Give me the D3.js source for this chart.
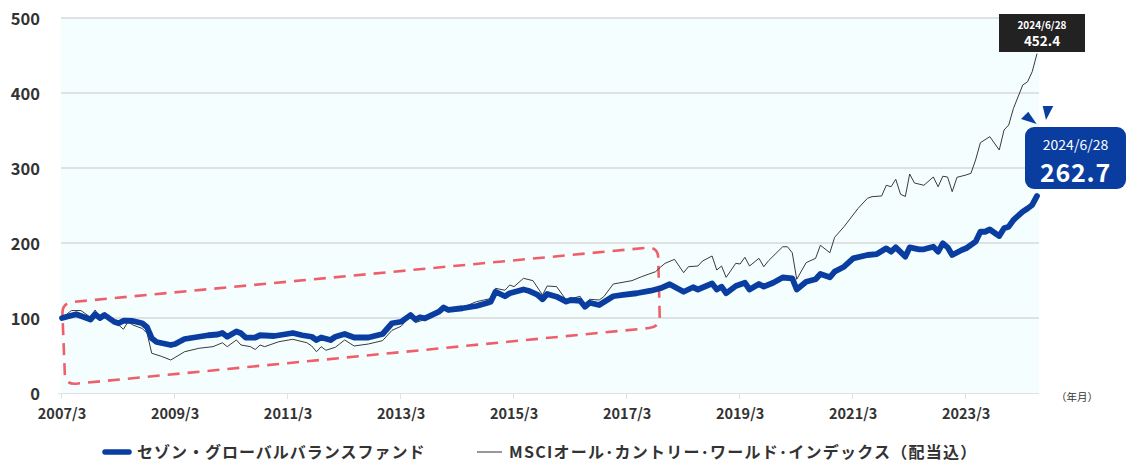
<!DOCTYPE html>
<html><head><meta charset="utf-8">
<script src="https://cdn.jsdelivr.net/npm/d3@7"></script>
<style>
body{margin:0;background:#fff;}
text{font-family:"Noto Sans CJK JP","Noto Sans",sans-serif;}
</style>
</head><body>
<svg id="chart" width="1128" height="473"></svg>
<script>
// ---- data ----
const fundDates = ["2007-03","2007-06","2007-09","2007-10","2007-11","2007-12","2008-02","2008-03","2008-04","2008-06","2008-08","2008-09","2008-10","2008-11","2009-02","2009-03","2009-05","2009-08","2009-10","2009-12","2010-01","2010-02","2010-04","2010-05","2010-06","2010-08","2010-09","2010-12","2011-02","2011-04","2011-06","2011-08","2011-09","2011-10","2011-12","2012-01","2012-03","2012-05","2012-08","2012-11","2013-01","2013-03","2013-05","2013-06","2013-07","2013-08","2013-11","2013-12","2014-01","2014-04","2014-07","2014-09","2014-10","2014-11","2015-01","2015-02","2015-05","2015-06","2015-08","2015-09","2015-10","2015-12","2016-02","2016-03","2016-05","2016-06","2016-07","2016-09","2016-12","2017-02","2017-05","2017-08","2017-10","2017-12","2018-03","2018-05","2018-06","2018-09","2018-10","2018-11","2018-12","2019-02","2019-04","2019-05","2019-07","2019-08","2019-10","2019-12","2020-02","2020-03","2020-05","2020-07","2020-08","2020-10","2020-11","2021-01","2021-03","2021-06","2021-08","2021-10","2021-11","2021-12","2022-02","2022-03","2022-05","2022-06","2022-08","2022-09","2022-10","2022-11","2022-12","2023-02","2023-03","2023-05","2023-06","2023-07","2023-08","2023-10","2023-11","2023-12","2024-01","2024-03","2024-04","2024-05","2024-06"];
const fundValues = [100,105,98,105,100,104,95,93,96.4,96,93,87.6,73,68,64,65.3,72,75,77,78,80,75,82,79.6,73.8,74,77,76,78,80,77,75,70.7,74,70.7,75,78.7,74,74,78.7,93,95,104,98,101,99.6,108.4,114,110.7,113,116,119.6,121.8,135,129,132.9,138,136.4,130.7,125,132,128.4,121.8,124,123,115,120.4,117.3,129,130.7,133,136.4,139.6,145,135,141,138,146,138,141.8,133,142.7,147,138,145.3,141.8,147,154,152.9,138,148.4,151.6,158.7,154.2,161.8,168.4,179.6,184,185.3,192.9,188.4,194.2,181.8,194.2,191.6,191.6,195,188.4,199.6,194.2,184,190.7,192.9,201.8,215,215,218,209.3,219.6,221.8,230.7,241.8,246,250.7,262.7];

const msciDates = ["2007-03","2007-05","2007-07","2007-09","2007-10","2007-11","2007-12","2008-02","2008-03","2008-04","2008-05","2008-06","2008-08","2008-09","2008-10","2008-12","2009-02","2009-05","2009-08","2009-11","2010-01","2010-02","2010-04","2010-05","2010-07","2010-08","2010-09","2010-10","2011-01","2011-04","2011-07","2011-08","2011-09","2011-10","2011-11","2012-01","2012-03","2012-05","2012-08","2012-11","2013-01","2013-03","2013-05","2013-06","2013-08","2013-12","2014-04","2014-07","2014-10","2014-11","2015-01","2015-02","2015-03","2015-05","2015-07","2015-09","2015-10","2015-12","2016-02","2016-05","2016-06","2016-07","2016-09","2016-10","2016-12","2017-04","2017-06","2017-09","2017-10","2017-11","2018-01","2018-03","2018-04","2018-06","2018-07","2018-09","2018-10","2018-11","2018-12","2019-02","2019-03","2019-04","2019-05","2019-07","2019-08","2019-09","2019-12","2020-01","2020-02","2020-03","2020-05","2020-07","2020-08","2020-10","2020-11","2021-01","2021-04","2021-06","2021-07","2021-09","2021-10","2021-11","2021-12","2022-01","2022-02","2022-03","2022-04","2022-06","2022-08","2022-09","2022-10","2022-11","2022-12","2023-01","2023-03","2023-04","2023-05","2023-06","2023-08","2023-10","2023-11","2023-12","2024-01","2024-03","2024-04","2024-05","2024-06"];
const msciValues = [100,110,110,101,110.7,101,105,93,90.7,85,95,90.7,86,79.6,53,49,44,55,59.6,61.8,67,61.8,70.7,64,61.8,58,64,61.8,68.4,71.6,67,62.7,55,61.8,57,61,70.7,62.7,65.3,69.8,83.6,89,102.7,93.8,98,113,114,121.8,126,139.6,137,144,141.8,152.9,149.8,130.7,142.7,141.8,124,129,117.3,125,124,128.4,145.3,149.8,155,161.8,167.6,172.9,178.2,160.4,168.4,169.3,176,182.7,164,169.3,154.2,172.9,172,181,169.3,179.6,168.4,176.4,195,195,187,151.6,173.8,179.6,197,187,207.6,221.8,246,259.6,261.8,262.7,277,275,285,265,262,292,280,277,288,275,289,288,268.4,287.6,290.7,292.9,310.7,333.7,341.8,324,350.7,357.3,379.6,410.7,415,428.4,452.4];

const yTickValues = [0,100,200,300,400,500];
const xTickLabels = ["2007/3","2009/3","2011/3","2013/3","2015/3","2017/3","2019/3","2021/3","2023/3"];
const seriesNames = ["セゾン・グローバルバランスファンド","MSCIオール･カントリー･ワールド･インデックス（配当込）"];
const endDateLabel = "2024/6/28";
// highlighted period box corners (date, value): TL, TR, BR, BL
const boxDates = ["2007-03-01","2017-09-16","2017-09-29","2007-03-22"];
const boxValues = [120,195,88,11];

// ---- drawing ----
const svg = d3.select("#chart");
const parseM = d3.timeParse("%Y-%m");
const parseD = d3.timeParse("%Y-%m-%d");
const x = d3.scaleTime().domain([parseM("2007-03"), parseM("2024-06")]).range([62, 1037]);
const y = d3.scaleLinear().domain([0, 500]).range([393, 18]);

const fund = fundDates.map((d,i)=>({date:parseM(d), v:fundValues[i]}));
const msci = msciDates.map((d,i)=>({date:parseM(d), v:msciValues[i]}));

const left = 61, right = 1039;
svg.append("rect").attr("x",left).attr("y",y(500)).attr("width",right-left).attr("height",y(0)-y(500)).attr("fill","#f5fefe");

// grid
svg.selectAll(".grid").data(yTickValues.filter(v=>v>0)).join("line")
  .attr("x1",left).attr("x2",right).attr("y1",d=>y(d)).attr("y2",d=>y(d))
  .attr("stroke","#d6d9da").attr("stroke-width",1.5);
// baseline
svg.append("line").attr("x1",left-3).attr("x2",right).attr("y1",y(0)+0.5).attr("y2",y(0)+0.5).attr("stroke","#dfe2e3").attr("stroke-width",1);

// y labels
svg.selectAll(".ylab").data(yTickValues).join("text")
  .attr("x",40).attr("y",d=>y(d)).attr("text-anchor","end").attr("dominant-baseline","central")
  .attr("font-size",16.5).attr("font-weight","bold").attr("fill","#333").text(d=>d);

// x ticks and labels
const xTickDates = xTickLabels.map(s=>{const p=s.split("/"); return new Date(+p[0], +p[1]-1, 1);});
svg.selectAll(".xt").data(xTickDates).join("line")
  .attr("x1",d=>Math.round(x(d))-0.5).attr("x2",d=>Math.round(x(d))-0.5).attr("y1",y(0)).attr("y2",y(0)+6)
  .attr("stroke","#dfe2e3");
svg.selectAll(".xl").data(xTickLabels).join("text")
  .attr("x",(d,i)=>x(xTickDates[i])).attr("y",412).attr("text-anchor","middle").attr("dominant-baseline","central")
  .attr("font-size",14.5).attr("font-weight","bold").attr("fill","#333").text(d=>d);
svg.append("text").attr("x",1077).attr("y",396).attr("text-anchor","middle").attr("dominant-baseline","central")
  .attr("font-size",10.5).attr("fill","#333").text("（年月）");

// dashed rounded box
const pts = boxDates.map((d,i)=>[x(parseD(d)), y(boxValues[i])]);
const r = 11;
function along(a,b,dist){const dx=b[0]-a[0], dy=b[1]-a[1], L=Math.hypot(dx,dy); return [a[0]+dx/L*dist, a[1]+dy/L*dist];}
let p = "";
for(let i=0;i<4;i++){
  const prev = pts[(i+3)%4], cur = pts[i], next = pts[(i+1)%4];
  const a = along(cur, prev, r), b = along(cur, next, r);
  p += (i===0?"M":"L")+a[0]+","+a[1]+"Q"+cur[0]+","+cur[1]+" "+b[0]+","+b[1];
}
p += "Z";
svg.append("path").attr("d",p).attr("fill","none").attr("stroke","#ef5f6a").attr("stroke-width",2.6).attr("stroke-dasharray","12,8");

// lines
const line = d3.line().x(d=>x(d.date)).y(d=>y(d.v));
svg.append("path").datum(msci).attr("d",line).attr("fill","none").attr("stroke","#3a3a3a").attr("stroke-width",1);
svg.append("path").datum(fund).attr("d",line).attr("fill","none").attr("stroke","#0a3da0").attr("stroke-width",5.8)
  .attr("stroke-linejoin","round").attr("stroke-linecap","round");

// end annotations
const lastM = msci[msci.length-1], lastF = fund[fund.length-1];
const mx = x(lastM.date);
const g1 = svg.append("g");
g1.append("rect").attr("x",mx-38).attr("y",14).attr("width",86).attr("height",38).attr("fill","#222");
g1.append("text").attr("x",mx+5).attr("y",24).attr("text-anchor","middle").attr("dominant-baseline","central")
  .attr("font-size",10).attr("font-weight","bold").attr("fill","#fff").text(endDateLabel);
g1.append("text").attr("x",mx+5).attr("y",39.5).attr("text-anchor","middle").attr("dominant-baseline","central")
  .attr("font-size",13.5).attr("font-weight","bold").attr("fill","#fff").text(lastM.v.toFixed(1));

const fx = x(lastF.date);
const g2 = svg.append("g");
g2.append("rect").attr("x",fx-12).attr("y",127).attr("width",101).attr("height",62).attr("rx",9).attr("fill","#0a3da0");
g2.append("text").attr("x",fx+38.5).attr("y",144).attr("text-anchor","middle").attr("dominant-baseline","central")
  .attr("font-size",14).attr("fill","#fff").text(endDateLabel);
g2.append("text").attr("x",fx+38.5).attr("y",171).attr("text-anchor","middle").attr("dominant-baseline","central")
  .attr("font-size",25).attr("font-weight","bold").attr("fill","#fff").attr("letter-spacing",0.8).text(lastF.v.toFixed(1));
g2.append("path").attr("d",`M${fx-16},119 L${fx-8.7},111.7 L${fx-0.3},124 Z`).attr("fill","#0a3da0");
g2.append("path").attr("d",`M${fx+5.7},106 L${fx+16.3},106 L${fx+9},120 Z`).attr("fill","#0a3da0");

// legend
const lg = svg.append("g");
lg.append("line").attr("x1",105).attr("x2",129).attr("y1",452).attr("y2",452).attr("stroke","#0a3da0").attr("stroke-width",5.5).attr("stroke-linecap","round");
lg.append("text").attr("x",137).attr("y",451).attr("dominant-baseline","central").attr("font-size",16).attr("font-weight","bold")
  .attr("letter-spacing",1.0).attr("fill","#333").text(seriesNames[0]);
lg.append("line").attr("x1",477).attr("x2",502).attr("y1",452).attr("y2",452).attr("stroke","#333").attr("stroke-width",1);
lg.append("text").attr("x",509).attr("y",451).attr("dominant-baseline","central").attr("font-size",16).attr("font-weight","bold")
  .attr("letter-spacing",1.25).attr("fill","#333").text(seriesNames[1]);
</script>
</body></html>
